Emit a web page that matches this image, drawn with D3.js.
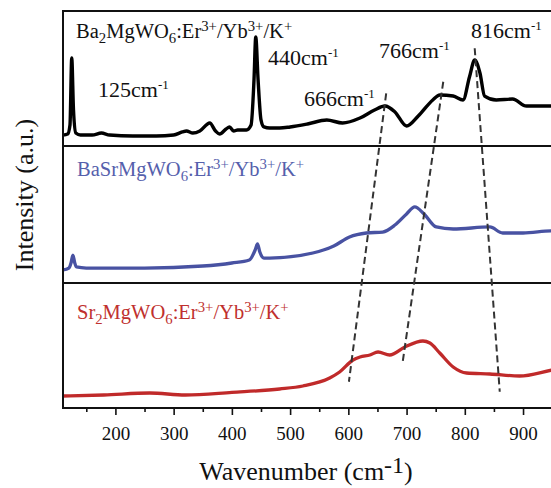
<!DOCTYPE html>
<html>
<head>
<meta charset="utf-8">
<script src="https://cdn.jsdelivr.net/npm/d3@7"></script>
<style>
  body { margin: 0; background: #fff; }
  svg { display: block; font-family: "Liberation Serif", "Times New Roman", serif; }
</style>
</head>
<body>
<div id="chart"></div>
<script>
// Raman spectra, three stacked panels (normalised intensity per panel)
var ba2Spectrum = [
  [110, 0.081], [118, 0.089], [122, 0.156], [125, 0.652], [128, 0.267], [132, 0.096],
  [140, 0.081], [160, 0.081], [176, 0.096], [190, 0.081], [230, 0.074], [270, 0.074],
  [300, 0.081], [315, 0.104], [322, 0.111], [333, 0.096], [345, 0.111], [362, 0.170],
  [372, 0.111], [379, 0.089], [390, 0.126], [396, 0.141], [403, 0.111], [410, 0.119],
  [425, 0.119], [433, 0.156], [438, 0.49], [441, 0.807], [445, 0.49], [450, 0.193],
  [455, 0.141], [465, 0.133], [482, 0.133], [500, 0.141], [530, 0.163], [563, 0.193],
  [590, 0.170], [620, 0.207], [645, 0.267], [663, 0.296], [680, 0.252], [700, 0.148],
  [720, 0.222], [745, 0.341], [757, 0.378], [780, 0.370], [797, 0.341], [808, 0.511],
  [817, 0.637], [826, 0.541], [834, 0.370], [854, 0.341], [882, 0.348], [906, 0.296],
  [950, 0.296], [970, 0.296]
];
var basrSpectrum = [
  [110, 0.095], [120, 0.109], [124, 0.150], [127, 0.204], [130, 0.150], [133, 0.117],
  [150, 0.109], [250, 0.109], [350, 0.124], [400, 0.146], [430, 0.168], [440, 0.241],
  [444, 0.285], [448, 0.226], [455, 0.182], [465, 0.182], [539, 0.219], [575, 0.27],
  [602, 0.336], [631, 0.365], [659, 0.372], [680, 0.423], [700, 0.504], [714, 0.555],
  [730, 0.504], [751, 0.409], [780, 0.394], [843, 0.409], [865, 0.365], [900, 0.365],
  [950, 0.380], [970, 0.380]
];
var sr2Spectrum = [
  [110, 0.096], [180, 0.104], [259, 0.12], [320, 0.104], [400, 0.125], [482, 0.152],
  [522, 0.176], [568, 0.24], [585, 0.288], [608, 0.384], [620, 0.408], [637, 0.424],
  [651, 0.448], [671, 0.424], [697, 0.488], [728, 0.536], [740, 0.52], [757, 0.44],
  [780, 0.328], [803, 0.28], [843, 0.272], [894, 0.256], [950, 0.304], [970, 0.32]
];
// dashed guide lines: [wavenumber, intensity] in top panel -> bottom panel
var shiftLines = [
  { top: [665, 0.39], bottom: [601, 0.21] },
  { top: [763, 0.476], bottom: [693, 0.358] },
  { top: [817, 0.724], bottom: [860, 0.13] }
];
var peakLabels = ["125", "440", "666", "766", "816"];
var majorTicks = [200, 300, 400, 500, 600, 700, 800, 900];
var minorTicks = [150, 250, 350, 450, 550, 650, 750, 850, 950];

var svgWidth = 551;
var svgHeight = 488;

var svg = d3.select("#chart")
  .append("svg")
  .attr("width", svgWidth)
  .attr("height", svgHeight);

var x = d3.scaleLinear()
  .domain([110, 970])
  .range([63, 563.8]);

var panels = [
  { top: 11, bottom: 146, color: "#000000", data: ba2Spectrum, width: 3.4 },
  { top: 146, bottom: 283, color: "#4852a2", data: basrSpectrum, width: 3.3 },
  { top: 283, bottom: 408, color: "#c02a2a", data: sr2Spectrum, width: 3.3 }
];
panels.forEach(function(p) {
  p.y = d3.scaleLinear().domain([0, 1]).range([p.bottom, p.top]);
});

// spectra
panels.forEach(function(p) {
  var line = d3.line()
    .x(d => x(d[0]))
    .y(d => p.y(d[1]))
    .curve(d3.curveMonotoneX);
  svg.append("path")
    .datum(p.data)
    .attr("fill", "none")
    .attr("stroke", p.color)
    .attr("stroke-width", p.width)
    .attr("stroke-linejoin", "round")
    .attr("d", line);
});

// frame and dividers
svg.append("rect")
  .attr("x", 63).attr("y", 11)
  .attr("width", 540).attr("height", 397)
  .attr("fill", "none").attr("stroke", "#111").attr("stroke-width", 2);
[146, 283].forEach(function(yy) {
  svg.append("line")
    .attr("x1", 63).attr("x2", 600)
    .attr("y1", yy).attr("y2", yy)
    .attr("stroke", "#111").attr("stroke-width", 2);
});

// dashed guide lines
svg.selectAll(".guide")
  .data(shiftLines)
  .enter()
  .append("line")
  .attr("class", "guide")
  .attr("x1", d => x(d.top[0]))
  .attr("y1", d => panels[0].y(d.top[1]))
  .attr("x2", d => x(d.bottom[0]))
  .attr("y2", d => panels[2].y(d.bottom[1]))
  .attr("stroke", "#333")
  .attr("stroke-width", 2)
  .attr("stroke-dasharray", "7,4");

// axis
var bottomAxis = d3.axisBottom(x)
  .tickValues(majorTicks)
  .tickSize(7)
  .tickPadding(11.5)
  .tickFormat(d3.format("d"));
var axisG = svg.append("g")
  .attr("transform", "translate(0, 408)")
  .call(bottomAxis);
axisG.select(".domain").remove();
axisG.selectAll("line").attr("stroke", "#111").attr("stroke-width", 1.6);
axisG.selectAll("text")
  .attr("font-size", 19)
  .attr("font-family", "Liberation Serif, serif")
  .attr("fill", "#111");

var minorG = svg.append("g")
  .attr("transform", "translate(0, 408)")
  .call(d3.axisBottom(x).tickValues(minorTicks).tickSize(4).tickFormat(""));
minorG.select(".domain").remove();
minorG.selectAll("line").attr("stroke", "#111").attr("stroke-width", 1.6);

// rich text helper
function richText(px, py, parts, size, color) {
  var t = svg.append("text")
    .attr("x", px).attr("y", py)
    .attr("font-size", size)
    .attr("fill", color);
  var shift = 0;
  parts.forEach(function(part) {
    var s = part[0], k = part[1];
    var target = k === "sub" ? size * 0.22 : k === "sup" ? -size * 0.36 : 0;
    t.append("tspan")
      .attr("dy", target - shift)
      .attr("font-size", k ? size * 0.72 : size)
      .text(s);
    shift = target;
  });
  return t;
}

// sample labels
richText(76, 38, [["Ba"], ["2", "sub"], ["MgWO"], ["6", "sub"], [":Er"], ["3+", "sup"],
  ["/Yb"], ["3+", "sup"], ["/K"], ["+", "sup"]], 20.5, "#111");
richText(77, 176, [["BaSrMgWO"], ["6", "sub"], [":Er"], ["3+", "sup"],
  ["/Yb"], ["3+", "sup"], ["/K"], ["+", "sup"]], 20.5, "#5560ac");
richText(77, 319, [["Sr"], ["2", "sub"], ["MgWO"], ["6", "sub"], [":Er"], ["3+", "sup"],
  ["/Yb"], ["3+", "sup"], ["/K"], ["+", "sup"]], 20.5, "#c0302e");

// peak labels
var peakPos = [[98, 97], [268, 65], [304, 106], [379, 58], [471, 38]];
peakLabels.forEach(function(lbl, i) {
  var t = svg.append("text")
    .attr("x", peakPos[i][0]).attr("y", peakPos[i][1])
    .attr("font-size", 22).attr("fill", "#111");
  t.append("tspan").text(lbl + "cm");
  t.append("tspan").attr("font-size", 13).attr("dy", -8).text("-1");
});

// axis titles
var xt = svg.append("text")
  .attr("x", 306).attr("y", 480)
  .attr("text-anchor", "middle")
  .attr("font-size", 26)
  .attr("fill", "#111");
xt.append("tspan").text("Wavenumber (cm");
xt.append("tspan").attr("font-size", 24).attr("dy", -7).text("-1");
xt.append("tspan").attr("dy", 7).text(")");

svg.append("text")
  .attr("transform", "translate(33, 195) rotate(-90)")
  .attr("text-anchor", "middle")
  .attr("font-size", 26)
  .attr("fill", "#111")
  .text("Intensity (a.u.)");
</script>
</body>
</html>
